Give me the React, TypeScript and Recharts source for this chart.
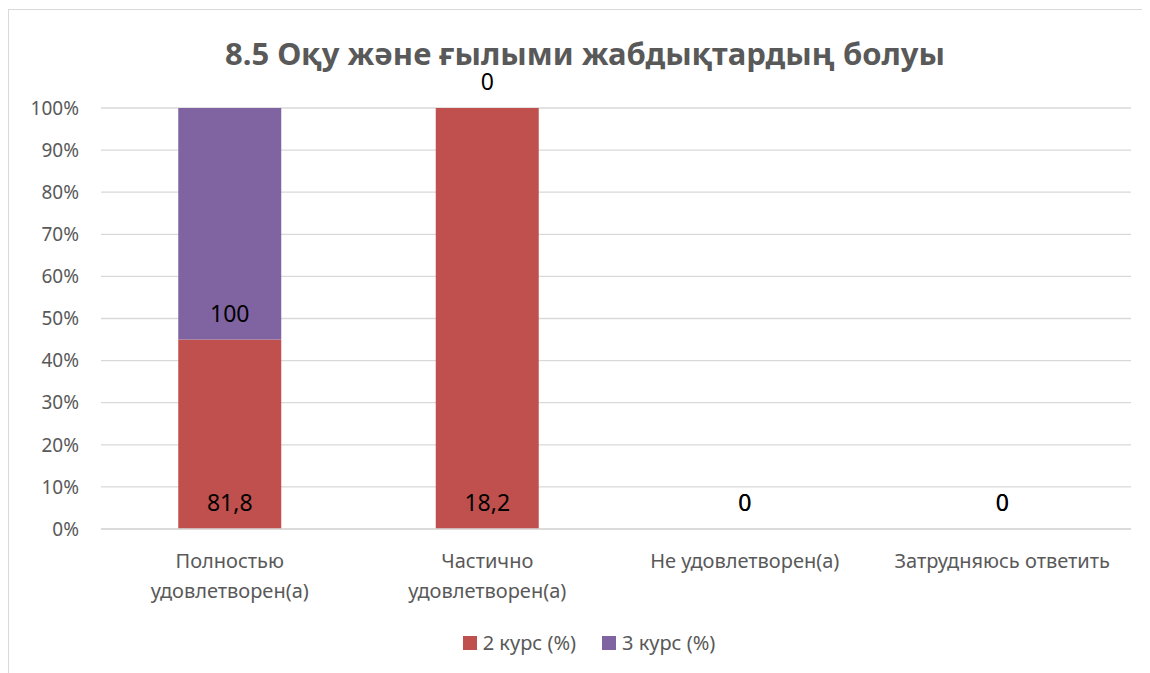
import React from 'react';
import {
  BarChart,
  Bar,
  XAxis,
  YAxis,
  CartesianGrid,
  LabelList,
} from 'recharts';

const categories = [
  'Полностью удовлетворен(а)',
  'Частично удовлетворен(а)',
  'Не удовлетворен(а)',
  'Затрудняюсь ответить',
];
const course2 = [81.8, 18.2, 0, 0];
const course3 = [100, 0, 0, 0];
const yTicks = [0, 0.1, 0.2, 0.3, 0.4, 0.5, 0.6, 0.7, 0.8, 0.9, 1];

const series = [
  { key: 'c2', name: '2 курс (%)', color: '#C0504D' },
  { key: 'c3', name: '3 курс (%)', color: '#8064A2' },
];

const data = categories.map((name, i) => ({
  name,
  c2: course2[i],
  c3: course3[i],
}));

const FONT = '"Noto Sans", "Open Sans", sans-serif';
const GREY = '#595959';

interface LabelProps {
  x?: number;
  y?: number;
  width?: number;
  height?: number;
  value?: number | string;
}

const BarLabel = ({ x, y, width, height, value }: LabelProps) => {
  if (x === undefined || y === undefined || value === undefined) return null;
  const cx = Number(x) + Number(width ?? 0) / 2;
  const cy = Number(y) + Math.max(Number(height ?? 0), 0) - 27;
  return (
    <text
      x={cx}
      y={cy}
      textAnchor="middle"
      dominantBaseline="central"
      fontSize={23}
      fontFamily={FONT}
      fill="#000"
    >
      {String(value).replace('.', ',')}
    </text>
  );
};

interface TickProps {
  x?: number;
  y?: number;
  payload?: { value: string };
}

const CategoryTick = ({ x, y, payload }: TickProps) => {
  if (x === undefined || y === undefined || !payload) return null;
  const text = payload.value;
  let lines = [text];
  if (text.length > 20) {
    const cut = text.indexOf(' ');
    lines = [text.slice(0, cut), text.slice(cut + 1)];
  }
  return (
    <g transform={`translate(${x},${y})`}>
      {lines.map((line, i) => (
        <text
          key={i}
          x={0}
          y={23 + i * 30}
          textAnchor="middle"
          dominantBaseline="central"
          fontSize={20}
          fontFamily={FONT}
          fill={GREY}
        >
          {line}
        </text>
      ))}
    </g>
  );
};

export default function App() {
  return (
    <div
      style={{
        position: 'relative',
        width: 1160,
        height: 680,
        borderTop: '1px solid #d9d9d9',
        borderLeft: '1px solid #d9d9d9',
        marginTop: 1,
        background: '#fff',
      }}
    >
      <div
        style={{
          position: 'absolute',
          left: 8,
          width: 1136,
          top: 22,
          textAlign: 'center',
          fontFamily: FONT,
          fontWeight: 700,
          fontSize: 31,
          lineHeight: '42px',
          color: GREY,
        }}
      >
        8.5 Оқу және ғылыми жабдықтардың болуы
      </div>
      <BarChart
        width={1140}
        height={665}
        data={data}
        stackOffset="expand"
        barCategoryGap="30%"
        margin={{ top: 98, right: 18, left: 12, bottom: 86 }}
      >
        <CartesianGrid vertical={false} stroke="#d9d9d9" strokeWidth={1.3} />
        <XAxis
          dataKey="name"
          axisLine={{ stroke: '#d9d9d9', strokeWidth: 1.3 }}
          tickLine={false}
          height={60}
          interval={0}
          tick={<CategoryTick />}
        />
        <YAxis
          width={80}
          domain={[0, 1]}
          ticks={yTicks}
          axisLine={false}
          tickLine={false}
          tickMargin={16}
          tickFormatter={(v: number) => `${Math.round(v * 100)}%`}
          tick={{ fill: GREY, fontSize: 19, fontFamily: FONT }}
        />
        {series.map((s) => (
          <Bar
            key={s.key}
            dataKey={s.key}
            name={s.name}
            stackId="a"
            fill={s.color}
            minPointSize={0.01}
            isAnimationActive={false}
          >
            <LabelList dataKey={s.key} content={<BarLabel />} />
          </Bar>
        ))}
      </BarChart>
      <div
        style={{
          position: 'absolute',
          left: 0,
          width: 1160,
          top: 618,
          display: 'flex',
          justifyContent: 'center',
          gap: 26,
          fontFamily: FONT,
          fontSize: 20,
          lineHeight: '30px',
          color: GREY,
        }}
      >
        {series.map((s) => (
          <div key={s.key} style={{ display: 'flex', alignItems: 'center' }}>
            <span
              style={{
                display: 'inline-block',
                width: 14,
                height: 14,
                background: s.color,
                marginRight: 6,
              }}
            />
            {s.name}
          </div>
        ))}
      </div>
    </div>
  );
}
